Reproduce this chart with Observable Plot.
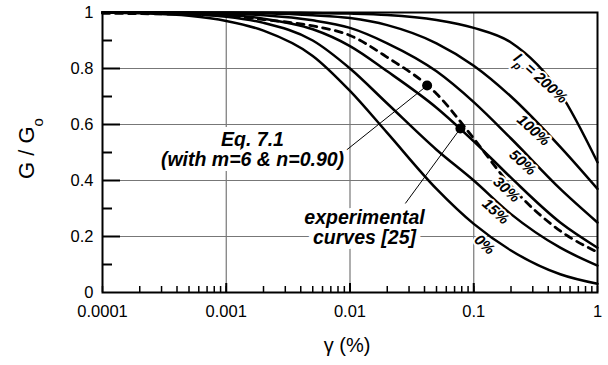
<!DOCTYPE html>
<html><head><meta charset="utf-8">
<script src="https://cdn.jsdelivr.net/npm/d3@7"></script>
<script src="https://cdn.jsdelivr.net/npm/@observablehq/plot@0.6"></script>
<style>
html,body{margin:0;padding:0;background:#fff;}
</style></head><body><div id="chart"></div>
<script>
// shear strain γ (%) sample points
const strain = [0.0001, 0.0002, 0.0005, 0.001, 0.002, 0.005, 0.01, 0.02, 0.05, 0.1, 0.2, 0.5, 1];
// G/Go for each plasticity index curve
const ip0   = [1.0, 0.997, 0.988, 0.970, 0.935, 0.845, 0.720, 0.570, 0.370, 0.245, 0.150, 0.065, 0.031];
const ip15  = [1.0, 0.999, 0.995, 0.985, 0.963, 0.900, 0.800, 0.675, 0.510, 0.400, 0.280, 0.160, 0.096];
const ip30  = [1.0, 1.0, 0.997, 0.992, 0.978, 0.940, 0.880, 0.790, 0.660, 0.540, 0.410, 0.250, 0.160];
const ip50  = [1.0, 1.0, 0.998, 0.996, 0.990, 0.972, 0.945, 0.890, 0.790, 0.680, 0.550, 0.370, 0.250];
const ip100 = [1.0, 1.0, 1.0, 0.999, 0.997, 0.990, 0.980, 0.955, 0.890, 0.810, 0.700, 0.520, 0.370];
const ip200 = [1.0, 1.0, 1.0, 1.0, 1.0, 0.998, 0.996, 0.991, 0.973, 0.945, 0.893, 0.712, 0.465];
// Eq. 7.1 (dashed)
const eq71  = [0.997, 0.996, 0.993, 0.989, 0.975, 0.952, 0.918, 0.840, 0.710, 0.550, 0.380, 0.220, 0.144];

const curveNames = ["0%", "15%", "30%", "50%", "100%", "200%"];
const curveValues = [ip0, ip15, ip30, ip50, ip100, ip200];

// curve labels
const curveLabelText = ["Ip = 200%", "100%", "50%", "30%", "15%", "0%"];
const curveLabelX = [0.346, 0.304, 0.248, 0.184, 0.150, 0.122];
const curveLabelY = [0.765, 0.579, 0.464, 0.368, 0.289, 0.171];

// annotations
const noteText = ["Eq. 7.1\n(with m=6 & n=0.90)", "experimental\ncurves [25]"];
const noteX = [0.00163, 0.0131];
const noteY = [0.511, 0.231];

// marked points and leader lines
const dotX = [0.042, 0.078];
const dotY = [0.739, 0.586];
const leaderX1 = [0.00885, 0.0280];
const leaderY1 = [0.500, 0.318];

// ticks
const xTickValues = [0.0001, 0.001, 0.01, 0.1, 1];
const yTickValues = [0, 0.2, 0.4, 0.6, 0.8, 1];
const xGrid = [0.001, 0.01, 0.1];
const yGrid = [0.2, 0.4, 0.6, 0.8];
const yMinor = [0.1, 0.3, 0.5, 0.7, 0.9];
const xMinor = d3.scaleLog().domain([0.0001, 1]).ticks();

const W = 608, H = 365, mL = 102, mR = 11, mT = 12, mB = 73;
const pW = W - mL - mR, pH = H - mT - mB;

const solid = curveNames.flatMap((n, k) => strain.map((g, i) => ({g, G: curveValues[k][i], name: n})));
const dashed = strain.map((g, i) => ({g, G: eq71[i]}));
const labels = curveLabelText.map((t, i) => ({t, x: curveLabelX[i], y: curveLabelY[i]}));
const notes = noteText.map((t, i) => ({t, x: noteX[i], y: noteY[i]}));
const dots = dotX.map((x, i) => ({x, y: dotY[i]}));
const leaders = dotX.map((x, i) => ({x1: leaderX1[i], y1: leaderY1[i], x2: x, y2: dotY[i]}));

const font = "'Liberation Sans', Arial, Helvetica, sans-serif";

const chart = Plot.plot({
  width: W, height: H,
  marginLeft: mL, marginRight: mR, marginTop: mT, marginBottom: mB,
  style: {fontFamily: font, fontSize: "16.5px", color: "black", background: "white"},
  x: {type: "log", domain: [0.0001, 1]},
  y: {domain: [0, 1]},
  marks: [
    Plot.gridX(xGrid, {stroke: "#777", strokeOpacity: 1, strokeWidth: 1.2}),
    Plot.gridY(yGrid, {stroke: "#777", strokeOpacity: 1, strokeWidth: 1.2}),
    Plot.line(solid, {x: "g", y: "G", z: "name", stroke: "black", strokeWidth: 2.5, curve: "monotone-x"}),
    Plot.line(dashed, {x: "g", y: "G", stroke: "black", strokeWidth: 2.8, strokeDasharray: "7,6", curve: "monotone-x"}),
    Plot.link(leaders, {x1: "x1", y1: "y1", x2: "x2", y2: "y2", stroke: "black", strokeWidth: 1}),
    Plot.dot(dots, {x: "x", y: "y", r: 5, fill: "black", stroke: "none"}),
    Plot.text(notes, {x: "x", y: "y", text: "t", fontSize: 19.5, fontWeight: "bold", fontStyle: "italic", lineHeight: 1.03, fill: "black", stroke: "white", strokeWidth: 10, strokeLinejoin: "round", paintOrder: "stroke"}),
    Plot.text(labels, {x: "x", y: "y", text: "t", fontSize: 15, fontWeight: "bold", fontStyle: "italic", rotate: 42, fill: "black", stroke: "white", strokeWidth: 4, strokeLinejoin: "round", paintOrder: "stroke"}),
    Plot.frame({stroke: "black", strokeWidth: 2}),
    Plot.tickY(yGrid, {y: d => d, insetRight: pW - 18, stroke: "black", strokeWidth: 2}),
    Plot.tickY(yMinor, {y: d => d, insetRight: pW - 10, stroke: "black", strokeWidth: 2}),
    Plot.tickX(xGrid, {x: d => d, insetTop: pH - 9, stroke: "black", strokeWidth: 2}),
    Plot.tickX(xMinor, {x: d => d, insetTop: pH - 6, stroke: "black", strokeWidth: 1.5}),
    Plot.axisX({ticks: xTickValues, tickSize: 0, tickPadding: 13, tickFormat: d => String(d), label: null, fontSize: 16.5}),
    Plot.axisY({ticks: yTickValues, tickSize: 0, tickPadding: 9, tickFormat: d => String(d), label: null, fontSize: 16.5}),
    Plot.text(["γ (%)"], {text: d => d, frameAnchor: "bottom", textAnchor: "middle", lineAnchor: "middle", dy: 53, dx: -3, fontSize: 20}),
    Plot.text(["G / Go"], {text: d => d, frameAnchor: "left", textAnchor: "middle", lineAnchor: "middle", dx: -76, dy: -4, rotate: -90, fontSize: 22})
  ]
});
document.getElementById("chart").appendChild(chart);

// subscripts
const NS = "http://www.w3.org/2000/svg";
chart.querySelectorAll("text").forEach(t => {
  if (t.textContent === "G / Go") {
    t.textContent = "G / G";
    const s = document.createElementNS(NS, "tspan");
    s.setAttribute("dy", "9"); s.setAttribute("font-size", "15");
    s.textContent = "o";
    t.appendChild(s);
  } else if (t.textContent === "Ip = 200%") {
    t.textContent = "I";
    const s = document.createElementNS(NS, "tspan");
    s.setAttribute("dy", "5"); s.setAttribute("font-size", "11");
    s.textContent = "p";
    const r = document.createElementNS(NS, "tspan");
    r.setAttribute("dy", "-5");
    r.textContent = " = 200%";
    t.appendChild(s); t.appendChild(r);
  }
});
</script>
</body></html>
